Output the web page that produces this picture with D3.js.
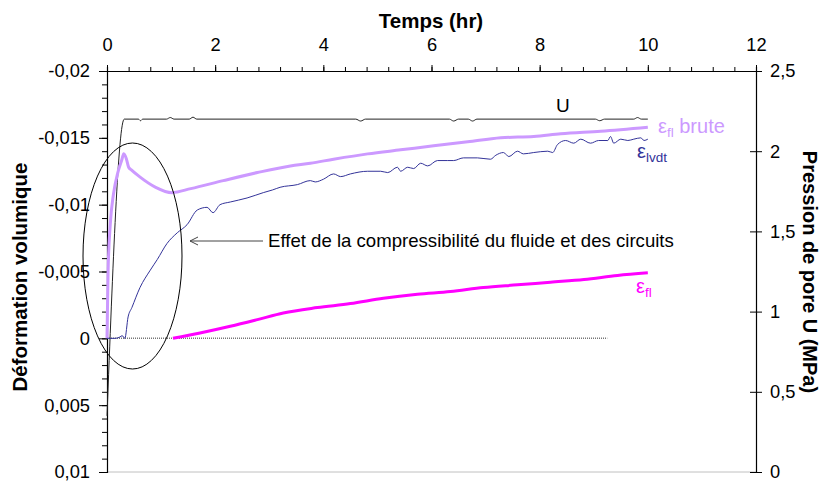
<!DOCTYPE html>
<html>
<head>
<meta charset="utf-8">
<script src="https://cdn.jsdelivr.net/npm/d3@7"></script>
<style>
  html, body { margin: 0; padding: 0; background: #fff; }
  svg { display: block; }
  text { font-family: "Liberation Sans", Arial, sans-serif; }
</style>
</head>
<body>
<svg id="chart" width="822" height="486"></svg>
<script>
// Temps (hr) and volumetric strain / pore pressure series
const timeTicks = [0, 2, 4, 6, 8, 10, 12];
const strainTicks = [-0.02, -0.015, -0.01, -0.005, 0, 0.005, 0.01];
const pressureTicks = [0, 0.5, 1, 1.5, 2, 2.5];

// Pression de pore U (MPa)
const uTime  = [0, 0.32, 0.58, 0.62, 0.66, 1.1, 1.17, 1.24, 1.52, 1.59, 1.66, 4.6, 4.69, 4.78, 6.33, 6.41, 6.5, 6.68, 6.76, 6.84, 9.03, 9.11, 9.2, 9.74, 9.81, 9.88, 10];
const uValue = [0.35, 2.2, 2.2, 2.19, 2.2, 2.2, 2.21, 2.2, 2.2, 2.212, 2.2, 2.2, 2.188, 2.2, 2.2, 2.188, 2.2, 2.2, 2.188, 2.2, 2.2, 2.19, 2.2, 2.2, 2.21, 2.2, 2.2];

// ε_fl brute
const brutTime  = [0, 0.02, 0.06, 0.12, 0.2, 0.27, 0.31, 0.36, 0.4, 0.45, 0.6, 0.9, 1.2, 1.55, 2.15, 2.78, 3.39, 3.76, 4.19, 4.82, 5.43, 6.04, 6.67, 7.28, 7.89, 8.39, 9.13, 10];
const brutValue = [0, -0.005, -0.0085, -0.0108, -0.0124, -0.0133, -0.0138, -0.0134, -0.0128, -0.0126, -0.0121, -0.0113, -0.0109, -0.0112, -0.0118, -0.0124, -0.0129, -0.0131, -0.0134, -0.0138, -0.0141, -0.0144, -0.0147, -0.0150, -0.0151, -0.0153, -0.0155, -0.0158];

// ε_lvdt
const lvdtTime  = [0, 0.15, 0.24, 0.28, 0.33, 0.39, 0.46, 0.61, 0.8, 0.93, 1.11, 1.3, 1.48, 1.67, 1.85, 1.96, 2.09, 2.28, 2.59, 2.89, 3.06, 3.2, 3.52, 3.76, 3.85, 4.0, 4.19, 4.32, 4.5, 4.82, 5.06, 5.19, 5.37, 5.43, 5.56, 5.67, 5.8, 5.93, 6.11, 6.3, 6.41, 6.59, 6.85, 7.09, 7.19, 7.33, 7.43, 7.59, 7.7, 7.89, 8.15, 8.24, 8.33, 8.48, 8.63, 8.76, 8.94, 9.09, 9.26, 9.31, 9.37, 9.5, 9.63, 9.74, 9.87, 9.93, 10];
const lvdtValue = [0, 0, -0.0001, -0.0002, 0, -0.0016, -0.0023, -0.0038, -0.0051, -0.0059, -0.0071, -0.0079, -0.0085, -0.0096, -0.0098, -0.0094, -0.0100, -0.0102, -0.0105, -0.0109, -0.0111, -0.0113, -0.0115, -0.0118, -0.0117, -0.0119, -0.0123, -0.0121, -0.0123, -0.0125, -0.0125, -0.0124, -0.0128, -0.0125, -0.0128, -0.0127, -0.0131, -0.0129, -0.0133, -0.0133, -0.0133, -0.0135, -0.0135, -0.0134, -0.0137, -0.0139, -0.0136, -0.0140, -0.0138, -0.0139, -0.0140, -0.0139, -0.0145, -0.0148, -0.0146, -0.0149, -0.0146, -0.0148, -0.0148, -0.0151, -0.0146, -0.0149, -0.0148, -0.0149, -0.0150, -0.0148, -0.0149];

// ε_fl
const flTime  = [1.22, 1.72, 2.28, 2.78, 3.26, 3.89, 4.5, 5.11, 5.74, 6.35, 6.96, 7.59, 8.2, 8.82, 9.44, 10];
const flValue = [0, -0.0004, -0.0009, -0.0014, -0.0019, -0.0023, -0.0026, -0.0030, -0.0033, -0.0035, -0.0038, -0.0040, -0.0042, -0.0044, -0.0047, -0.0049];

const zeroLineEnd = 9.25;

const svg = d3.select("#chart");
const plotL = 107, plotR = 756, plotT = 71, plotB = 472;

const x = d3.scaleLinear().domain([0, 12]).range([plotL, plotR]);
const y = d3.scaleLinear().domain([-0.02, 0.01]).range([plotT, plotB]);
const yR = d3.scaleLinear().domain([0, 2.5]).range([plotB, plotT]);

const fr = d3.formatLocale({decimal: ",", thousands: " ", grouping: [3], currency: ["", " €"], minus: "-"});
const fmt = fr.format("~g");

const FONT = "18.3px";

// light baseline along the bottom
svg.append("line").attr("x1", plotL).attr("x2", plotR).attr("y1", plotB).attr("y2", plotB)
  .attr("stroke", "#c0c0c0").attr("stroke-width", 1);

// top time axis
const topAxis = d3.axisTop(x).tickValues(d3.range(0, 12.01, 0.4)).tickSize(4).tickFormat("");
svg.append("g").attr("transform", `translate(0,${plotT})`).call(topAxis);
const topMajor = d3.axisTop(x).tickValues(timeTicks).tickSize(6).tickPadding(14).tickFormat(fmt);
const gTopM = svg.append("g").attr("transform", `translate(0,${plotT})`).call(topMajor);
gTopM.select(".domain").remove();

// left strain axis
const leftMinor = d3.axisLeft(y).tickValues(d3.range(-20, 10.5, 1).map(v => v / 1000)).tickSize(5).tickFormat("");
svg.append("g").attr("transform", `translate(${plotL},0)`).call(leftMinor);
const leftMajor = d3.axisLeft(y).tickValues(strainTicks).tickSize(8).tickPadding(9).tickFormat(fmt);
const gLeft = svg.append("g").attr("transform", `translate(${plotL},0)`).call(leftMajor);
gLeft.select(".domain").remove();

// right pressure axis (ticks cross the line)
const rightAxis = d3.axisRight(yR).tickValues(pressureTicks).tickSize(6).tickPadding(8).tickFormat(fmt);
const gRight = svg.append("g").attr("transform", `translate(${plotR},0)`).call(rightAxis);
gRight.selectAll(".tick line").attr("x1", -6);

svg.selectAll(".domain").attr("stroke", "#000").attr("stroke-width", 1.2);
svg.selectAll(".tick line").attr("stroke", "#000");
svg.selectAll(".tick text").style("font-size", FONT).attr("fill", "#000")
  .style("font-family", '"Liberation Sans", Arial, sans-serif');

// axis titles
svg.append("text").attr("x", 431).attr("y", 28).attr("text-anchor", "middle")
  .style("font-size", "20.5px").style("font-weight", "bold").text("Temps (hr)");
svg.append("text").attr("transform", "translate(27,277) rotate(-90)").attr("text-anchor", "middle")
  .style("font-size", "20.5px").style("font-weight", "bold").text("Déformation volumique");
svg.append("text").attr("transform", "translate(803,272) rotate(90)").attr("text-anchor", "middle")
  .style("font-size", "20px").style("font-weight", "bold").text("Pression de pore U (MPa)");

// dotted zero reference
svg.append("line").attr("x1", x(0)).attr("x2", x(zeroLineEnd)).attr("y1", y(0)).attr("y2", y(0))
  .attr("stroke", "#777").attr("stroke-width", 1.5).attr("stroke-dasharray", "1,1");

// U
svg.append("path")
  .attr("d", d3.line().x((d, i) => x(uTime[i])).y((d, i) => yR(uValue[i])).curve(d3.curveMonotoneX)(uTime))
  .attr("fill", "none").attr("stroke", "#222").attr("stroke-width", 1);

// ε_fl brute
svg.append("path")
  .attr("d", d3.line().x((d, i) => x(brutTime[i])).y((d, i) => y(brutValue[i])).curve(d3.curveMonotoneX)(brutTime))
  .attr("fill", "none").attr("stroke", "#cc99ff").attr("stroke-width", 3).attr("stroke-linejoin", "round");

// ε_lvdt
svg.append("path")
  .attr("d", d3.line().x((d, i) => x(lvdtTime[i])).y((d, i) => y(lvdtValue[i])).curve(d3.curveMonotoneX)(lvdtTime))
  .attr("fill", "none").attr("stroke", "#333399").attr("stroke-width", 1).attr("stroke-linejoin", "round");

// ε_fl
svg.append("path")
  .attr("d", d3.line().x((d, i) => x(flTime[i])).y((d, i) => y(flValue[i])).curve(d3.curveMonotoneX)(flTime))
  .attr("fill", "none").attr("stroke", "#ff00ff").attr("stroke-width", 3).attr("stroke-linejoin", "round");

// ellipse around the early transient
svg.append("ellipse").attr("cx", 132.5).attr("cy", 256).attr("rx", 49.5).attr("ry", 113)
  .attr("fill", "none").attr("stroke", "#000").attr("stroke-width", 1);

// annotation arrow and text
svg.append("line").attr("x1", 190).attr("x2", 263).attr("y1", 241).attr("y2", 241)
  .attr("stroke", "#444").attr("stroke-width", 1);
svg.append("path").attr("d", "M198,237 L190,241 L198,245")
  .attr("fill", "none").attr("stroke", "#444").attr("stroke-width", 1);
svg.append("text").attr("x", 268).attr("y", 247).style("font-size", "18.6px")
  .text("Effet de la compressibilité du fluide et des circuits");

// curve labels
svg.append("text").attr("x", 556).attr("y", 112).style("font-size", "19px").text("U");

const lb1 = svg.append("text").attr("x", 658).attr("y", 133).attr("fill", "#cc99ff").style("font-size", "20px");
lb1.append("tspan").text("ε");
lb1.append("tspan").attr("dy", 4).style("font-size", "13.5px").text("fl");
lb1.append("tspan").attr("dy", -4).text(" brute");

const lb2 = svg.append("text").attr("x", 637).attr("y", 158).attr("fill", "#333399").style("font-size", "20px");
lb2.append("tspan").text("ε");
lb2.append("tspan").attr("dy", 4).style("font-size", "13.5px").text("lvdt");

const lb3 = svg.append("text").attr("x", 636).attr("y", 293).attr("fill", "#ff00ff").style("font-size", "20px");
lb3.append("tspan").text("ε");
lb3.append("tspan").attr("dy", 4).style("font-size", "13.5px").text("fl");
</script>
</body>
</html>
